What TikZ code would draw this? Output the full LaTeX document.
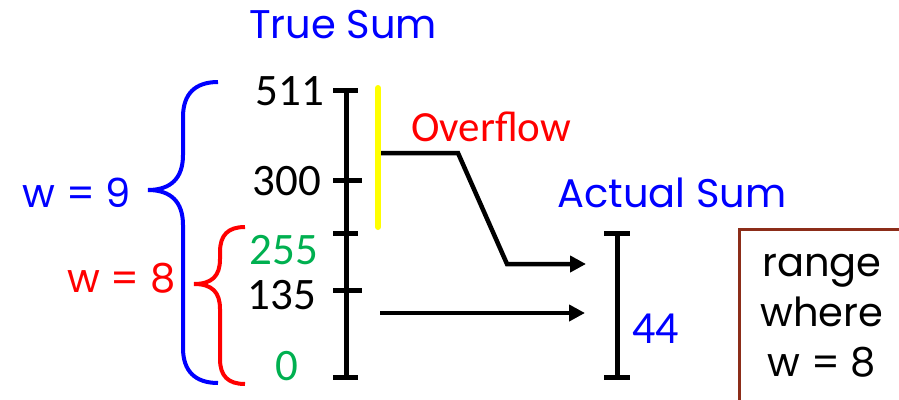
\documentclass[tikz,border=0pt]{standalone}
\usepackage{fontspec}
\setmainfont{Poppins}
\newfontfamily\numfont{Carlito}
\usetikzlibrary{arrows.meta}
\definecolor{myblue}{RGB}{0,0,255}
\definecolor{myred}{RGB}{255,0,0}
\definecolor{mygreen}{RGB}{0,176,80}
\definecolor{myyellow}{RGB}{255,255,0}
\definecolor{boxbrown}{RGB}{140,45,25}
\tikzset{
  gtext/.style={inner sep=0pt, font=\fontsize{40}{50}\selectfont},
  ntext/.style={inner sep=0pt, font=\numfont\fontsize{45}{48}\selectfont},
  axis/.style={line width=5pt, black},
  brace/.style={line width=4pt},
  conn/.style={line width=4.5pt, black, -{Triangle[length=16pt,width=16pt]}},
}
\begin{document}
\begin{tikzpicture}[x=1pt,y=-1pt]
\useasboundingbox (0,0) rectangle (899,399);
% titles
\node[gtext, text=myblue] (truesum) at (343,25) {True Sum};
\node[gtext, text=myblue] (actualsum) at (672,193) {Actual Sum};
\node[inner sep=0pt, font=\numfont\fontsize{43}{46}\selectfont, text=myred] (overflow) at (491,127) {Overflow};
% main axis
\coordinate (atop) at (346,90);
\coordinate (abot) at (346,377);
\draw[axis] (atop) -- (abot);
\draw[axis] (333,90) -- (358,90);
\draw[axis] (333,180) -- (362,180);
\draw[axis] (333,233) -- (358,233);
\draw[axis] (333,290) -- (362,290);
\draw[axis] (333,377) -- (358,377);
% labels
\node[ntext, anchor=east] (l511) at (324,91) {511};
\node[ntext, anchor=east] (l300) at (321,181) {300};
\node[ntext, anchor=east, text=mygreen] (l255) at (318,250) {255};
\node[ntext, anchor=east] (l135) at (316,295) {135};
\node[ntext, anchor=east, text=mygreen] (l0) at (299,366) {0};
% yellow overflow bar
\coordinate (ytop) at (378,88);
\coordinate (ybot) at (378,227);
\draw[line width=6pt, myyellow, line cap=round] (ytop) -- (ybot);
% braces
\draw[brace, myblue] (218,82) .. controls (195,82) and (183,94) .. (183,117)
  -- (183,155) .. controls (183,178) and (171,190) .. (148,190)
  .. controls (171,190) and (183,202) .. (183,225)
  -- (183,348) .. controls (183,371) and (195,383) .. (218,383);
\draw[brace, myred] (245,227) .. controls (228,227) and (220,235) .. (220,252)
  -- (220,259) .. controls (220,276) and (212,284) .. (194,284)
  .. controls (212,284) and (220,292) .. (220,309)
  -- (220,359) .. controls (220,376) and (228,384) .. (245,384);
\node[gtext, text=myblue, anchor=east] (w9) at (131,193) {w = 9};
\node[gtext, text=myred, anchor=east] (w8) at (176,278) {w = 8};
% actual sum bar
\coordinate (btop) at (617,233);
\coordinate (bbot) at (617,377);
\draw[axis] (btop) -- (bbot);
\draw[axis] (604,233) -- (630,233);
\draw[axis] (604,377) -- (630,377);
\node[ntext, text=myblue, anchor=west, font=\numfont\fontsize{46}{48}\selectfont] (l44) at (632,329) {44};
% connectors
\coordinate (o1) at (381,153);
\coordinate (o2) at (458,153);
\coordinate (o3) at (507,264);
\coordinate (o4) at (586,264);
\draw[conn] (o1) -- (o2) -- (o3) -- (o4);
\coordinate (c1) at (380,313);
\coordinate (c2) at (585,313);
\draw[conn] (c1) -- (c2);
% box
\node[draw=boxbrown, line width=2.5pt, anchor=north west, minimum width=190pt, minimum height=200pt, inner sep=0pt] (box) at (738,228) {};
\node[gtext, align=center, text=black] (boxtext) at (822,316) {range\\where\\w = 8};
\end{tikzpicture}
\end{document}
